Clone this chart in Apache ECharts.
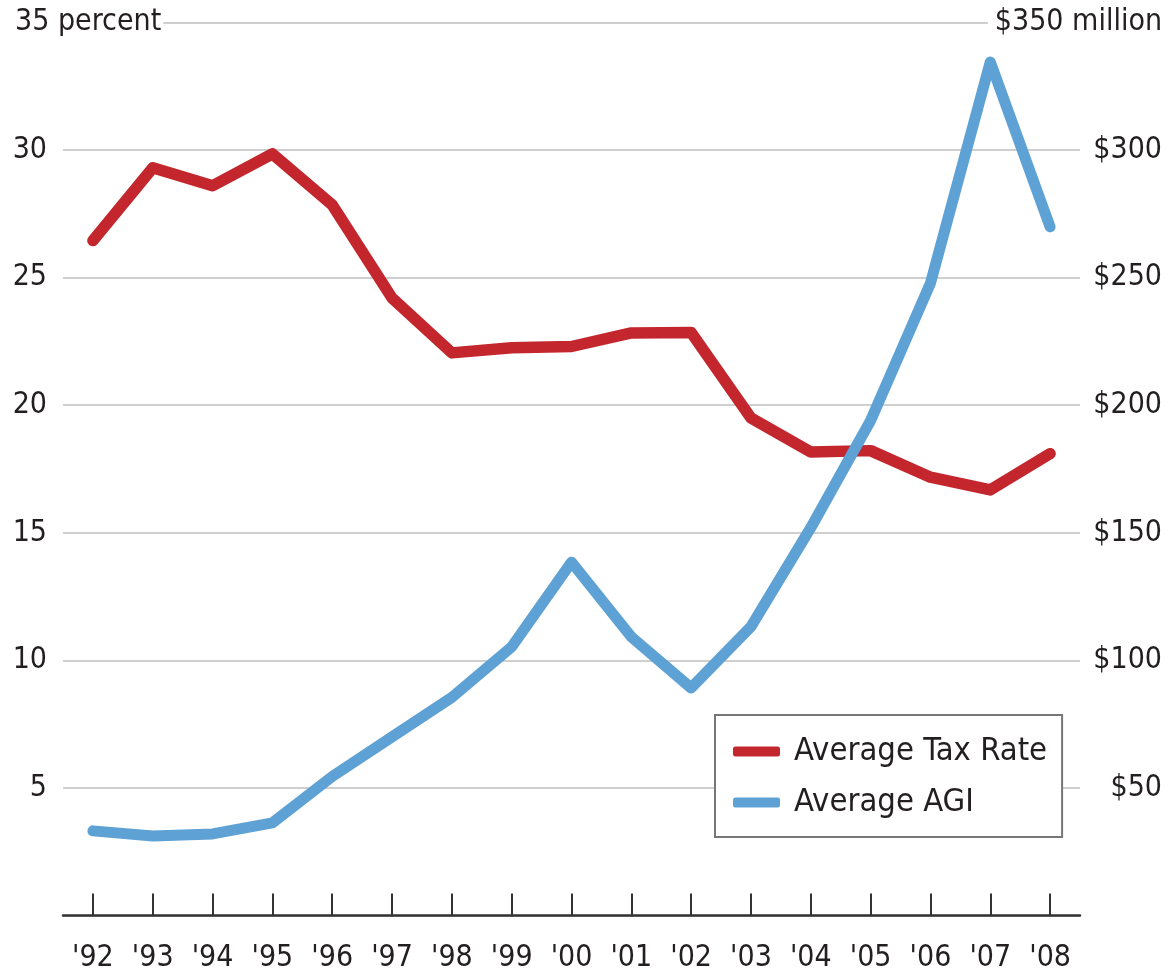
<!DOCTYPE html>
<html>
<head>
<meta charset="utf-8">
<script src="https://cdn.jsdelivr.net/npm/echarts@6/dist/echarts.min.js"></script>
<style>
html,body{margin:0;padding:0;background:#fff;}
#chart{width:1171px;height:974px;}
</style>
</head>
<body>
<div id="chart"></div>
<script>
const years = ["'92","'93","'94","'95","'96","'97","'98","'99","'00","'01","'02","'03","'04","'05","'06","'07","'08"];
const taxRate = [26.45, 29.3, 28.6, 29.85, 27.85, 24.2, 22.05, 22.25, 22.3, 22.83, 22.85, 19.5, 18.17, 18.22, 17.18, 16.68, 18.1];
const avgAGI = [33.2, 31.2, 32.0, 36.3, 54.5, 70, 85.5, 105.3, 138.5, 109.2, 89.2, 113.2, 152, 194, 247.8, 334.5, 269.9];
const leftTicks = {min: 0, max: 35, interval: 5, topLabel: '35 percent'};
const rightTicks = {min: 0, max: 350, interval: 50, topLabel: '$350 million'};
const seriesNames = ['Average Tax Rate', 'Average AGI'];

const FONT = "'Liberation Sans Narrow', 'DejaVu Sans Condensed', 'Roboto Condensed', sans-serif";
const FS = 30;
const TXT = '#231f20';
const RED = '#c3262d';
const BLUE = '#5ea1d4';

const chart = echarts.init(document.getElementById('chart'), null, {renderer: 'canvas'});
chart.setOption({
  backgroundColor: '#fff',
  animation: false,
  grid: {left: 63, right: 91, top: 22.4, bottom: 58.4},
  legend: {
    orient: 'vertical',
    left: 715, top: 715,
    padding: [11, 15, 9, 18],
    itemGap: 0,
    itemWidth: 47,
    itemHeight: 10,
    icon: 'roundRect',
    backgroundColor: '#fff',
    borderColor: '#777',
    borderWidth: 2,
    borderRadius: 0,
    textStyle: {fontFamily: FONT, fontSize: 32.5, color: TXT, lineHeight: 51, padding: [0, 0, 0, 9], width: 252},
    data: seriesNames
  },
  xAxis: {
    type: 'category',
    data: years,
    boundaryGap: true,
    axisLine: {show: true, lineStyle: {color: '#333', width: 2.5}},
    axisTick: {show: true, alignWithLabel: true, inside: true, length: 22, lineStyle: {color: '#333', width: 2}},
    axisLabel: {fontFamily: FONT, fontSize: FS, color: TXT, margin: 28, interval: 0},
    splitLine: {show: false}
  },
  yAxis: [
    {
      type: 'value', min: leftTicks.min, max: leftTicks.max, interval: leftTicks.interval,
      axisLine: {show: false}, axisTick: {show: false},
      splitLine: {show: true, lineStyle: {color: '#cfcfcf', width: 2}},
      axisLabel: {
        showMinLabel: false,
        align: 'left', margin: 48,
        fontFamily: FONT, fontSize: FS, color: TXT,
        formatter: v => v === leftTicks.max ? '{p|' + leftTicks.topLabel + '}' : '{n|' + v + '}',
        rich: {
          n: {fontFamily: FONT, fontSize: FS, color: TXT, width: 32, align: 'right'},
          p: {fontFamily: FONT, fontSize: FS, color: TXT, backgroundColor: '#fff', padding: [2, 2, 2, 0]}
        }
      }
    },
    {
      type: 'value', min: rightTicks.min, max: rightTicks.max, interval: rightTicks.interval,
      position: 'right',
      axisLine: {show: false}, axisTick: {show: false},
      splitLine: {show: false},
      axisLabel: {
        showMinLabel: false,
        align: 'right', margin: 82,
        fontFamily: FONT, fontSize: FS, color: TXT,
        formatter: v => v === rightTicks.max ? '{p|' + rightTicks.topLabel + '}' : '$' + v,
        rich: {
          p: {fontFamily: FONT, fontSize: FS, color: TXT, backgroundColor: '#fff', padding: [2, 0, 2, 7]}
        }
      }
    }
  ],
  series: [
    {
      name: seriesNames[0], type: 'line', yAxisIndex: 0, data: taxRate,
      symbol: 'none', color: RED,
      lineStyle: {color: RED, width: 11.5, join: 'round', cap: 'round'}
    },
    {
      name: seriesNames[1], type: 'line', yAxisIndex: 1, data: avgAGI,
      symbol: 'none', color: BLUE,
      lineStyle: {color: BLUE, width: 11, join: 'round', cap: 'round'}
    }
  ]
});
</script>
</body>
</html>
